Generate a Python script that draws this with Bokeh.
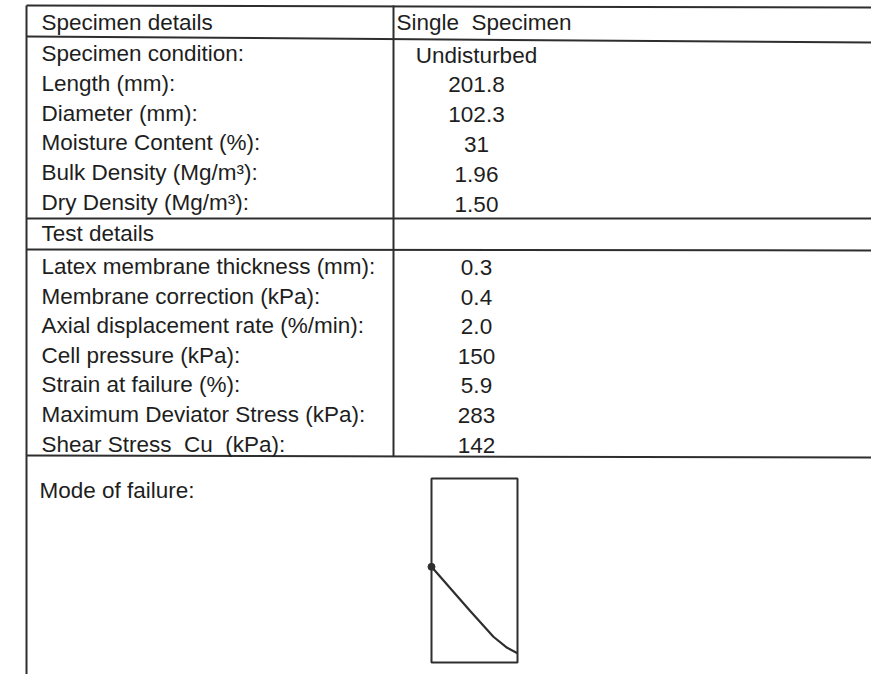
from bokeh.plotting import figure
from bokeh.models import Range1d, ColumnDataSource
from bokeh.core.properties import value
from bokeh.embed import file_html
from bokeh.resources import INLINE

# ---- data ----
section_titles = ["Specimen details", "Test details"]
header_value = "Single\u00a0 Specimen"
specimen_labels = [
    "Specimen condition:",
    "Length (mm):",
    "Diameter (mm):",
    "Moisture Content (%):",
    "Bulk Density (Mg/m³):",
    "Dry Density (Mg/m³):",
]
specimen_values = ["Undisturbed", "201.8", "102.3", "31", "1.96", "1.50"]
test_labels = [
    "Latex membrane thickness (mm):",
    "Membrane correction (kPa):",
    "Axial displacement rate (%/min):",
    "Cell pressure (kPa):",
    "Strain at failure (%):",
    "Maximum Deviator Stress (kPa):",
    "Shear Stress\u00a0 Cu\u00a0 (kPa):",
]
test_values = ["0.3", "0.4", "2.0", "150", "5.9", "283", "142"]
failure_title = "Mode of failure:"
# fracture trace inside the sketch box, as fractions (x across, y down)
fracture_x = [0.0, 0.45, 0.72, 0.88, 1.0]
fracture_y = [0.48, 0.72, 0.86, 0.92, 0.95]

# ---- layout (picture pixel coordinates) ----
W, H = 871, 674
X0, Y0 = 0, 0
LEFT = 26
COL = 393
RIGHT = 880
LABEL_X = 41
VALUE_X = 476
PITCH = 29.8
FONT = value("Liberation Sans")
FSIZE = "22.5px"
TXT = "#1e1e1e"
LINE = "#2e2e2e"

p = figure(width=W, height=H, output_backend="svg", toolbar_location=None,
           x_range=Range1d(X0, X0 + W), y_range=Range1d(Y0 + H, Y0),
           min_border=0, outline_line_color=None)
p.axis.visible = False
p.grid.visible = False
p.background_fill_color = "white"
p.border_fill_color = "white"

# table lines
seg_x0 = [LEFT, LEFT, LEFT, LEFT, LEFT, LEFT, COL]
seg_y0 = [5, 36, 218, 249, 455, 5, 5]
seg_x1 = [RIGHT, RIGHT, RIGHT, RIGHT, RIGHT, LEFT, COL]
seg_y1 = [7, 42, 218, 250, 457, 700, 456]
p.segment(seg_x0, seg_y0, seg_x1, seg_y1, line_color=LINE, line_width=2)

def put(xs, ys, texts, align):
    src = ColumnDataSource(dict(x=xs, y=ys, t=texts))
    p.text("x", "y", text="t", source=src, text_font=FONT, text_font_size=FSIZE,
           text_color=TXT, text_align=align, text_baseline="middle")

# header row
put([LABEL_X], [22], [section_titles[0]], "left")
put([COL + 3], [22], [header_value], "left")

# specimen rows
sy = [53 + PITCH * i for i in range(len(specimen_labels))]
put([LABEL_X] * len(sy), sy, specimen_labels, "left")
put([VALUE_X] * len(sy), [y + 1.5 for y in sy], specimen_values, "center")

# test details title
put([LABEL_X], [233], [section_titles[1]], "left")

# test rows
ty = [266 + 29.6 * i for i in range(len(test_labels))]
put([LABEL_X] * len(ty), ty, test_labels, "left")
put([VALUE_X] * len(ty), [y + 1 for y in ty], test_values, "center")

# mode of failure
put([39], [490], [failure_title], "left")

BX0, BX1, BY0, BY1 = 431, 517, 478, 662
p.quad(left=[BX0], right=[BX1], top=[BY0], bottom=[BY1], fill_color=None,
       line_color=LINE, line_width=2)
fx = [BX0 + f * (BX1 - BX0) for f in fracture_x]
fy = [BY0 + f * (BY1 - BY0) for f in fracture_y]
p.line(fx, fy, line_color=LINE, line_width=2.2)
p.scatter([fx[0]], [fy[0]], size=7, color=LINE)

open("out.html", "w").write(file_html(p, INLINE))
